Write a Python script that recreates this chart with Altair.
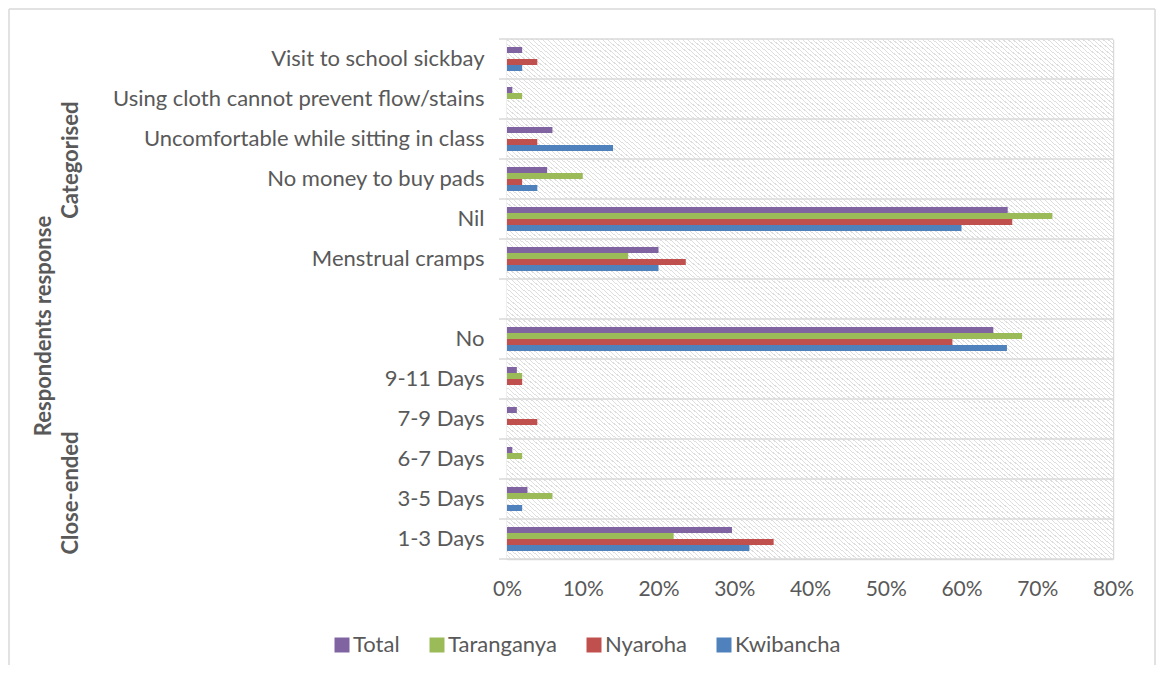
import altair as alt
import pandas as pd

# ---------------- data ----------------
categories = [
    "Visit to school sickbay",
    "Using cloth cannot prevent flow/stains",
    "Uncomfortable while sitting in class",
    "No money to buy pads",
    "Nil",
    "Menstrual cramps",
    " ",
    "No",
    "9-11 Days",
    "7-9 Days",
    "6-7 Days",
    "3-5 Days",
    "1-3 Days",
]
series = ["Total", "Taranganya", "Nyaroha", "Kwibancha"]
colors = ["#8064A2", "#9BBB59", "#C0504D", "#4F81BD"]

total      = [2.0, 0.7, 6.0, 5.3, 66.1, 20.0, None, 64.2, 1.3, 1.3, 0.7, 2.7, 29.7]
taranganya = [0.0, 2.0, 0.0, 10.0, 72.0, 16.0, None, 68.0, 2.0, 0.0, 2.0, 6.0, 22.0]
nyaroha    = [4.0, 0.0, 4.0, 2.0, 66.7, 23.6, None, 58.8, 2.0, 4.0, 0.0, 0.0, 35.2]
kwibancha  = [2.0, 0.0, 14.0, 4.0, 60.0, 20.0, None, 66.0, 0.0, 0.0, 0.0, 2.0, 32.0]

x_ticks = [0.0, 0.1, 0.2, 0.3, 0.4, 0.5, 0.6, 0.7, 0.8]

group_title = "Respondents response"
group_labels = ["Categorised", "Close-ended"]

# ---------------- table ----------------
rows = []
for name, vals in zip(series, [total, taranganya, nyaroha, kwibancha]):
    for cat, v in zip(categories, vals):
        if v is not None:
            rows.append({"cat": cat, "series": name, "value": v / 100.0})
df = pd.DataFrame(rows)

W, H = 606, 520
FONT = "Lato"
FS = 22
TXT = "#595959"
GRID = "#d9d9d9"

yscale = alt.Scale(domain=categories, paddingInner=0, paddingOuter=0)
yaxis = alt.Axis(
    grid=False, ticks=False, tickSize=0, domainColor=GRID, domainWidth=1.5,
    labelFont=FONT, labelFontSize=FS, labelColor=TXT, labelPadding=23,
    labelLimit=600, title=None,
)
# two empty slots around the four series leave the gap between groups
offset_domain = ["_gap_top"] + series + ["_gap_bottom"]

# hatched plot background as a striped linear gradient
N = 242
stops = []
for k in range(N):
    a, b, c = k / N, (k + 0.75) / N, (k + 1) / N
    stops += [
        {"offset": round(a, 5), "color": "#ffffff"},
        {"offset": round(b, 5), "color": "#ffffff"},
        {"offset": round(b, 5), "color": "#dedede"},
        {"offset": round(c, 5), "color": "#dedede"},
    ]
hatch = {"gradient": "linear", "x1": 0, "y1": 1, "x2": 1, "y2": 0, "stops": stops}

one = pd.DataFrame({"k": [0]})
background = alt.Chart(one).mark_rect(fill=hatch, strokeWidth=0).encode(
    x=alt.value(0), x2=alt.value(W), y=alt.value(0), y2=alt.value(H)
)

bars = alt.Chart(df).mark_bar().encode(
    x=alt.X(
        "value:Q",
        scale=alt.Scale(domain=[0, 0.8], nice=False),
        axis=alt.Axis(
            values=x_ticks, format=".0%", grid=True, gridColor=GRID, gridWidth=1.5,
            ticks=False, domainColor=GRID, domainWidth=1.5, labelFont=FONT,
            labelFontSize=21, labelColor=TXT, labelPadding=19, labelFlush=False,
            title=None,
        ),
    ),
    y=alt.Y("cat:N", scale=yscale, axis=yaxis),
    yOffset=alt.YOffset(
        "series:N",
        scale=alt.Scale(domain=offset_domain, paddingInner=0, paddingOuter=0.3333),
    ),
    color=alt.Color(
        "series:N",
        scale=alt.Scale(domain=series, range=colors),
        legend=alt.Legend(
            orient="none", legendX=-176, legendY=595, direction="horizontal",
            title=None, symbolType="square", symbolSize=225, symbolStrokeWidth=0,
            labelFont=FONT, labelFontSize=FS, labelColor=TXT, columnPadding=26,
            labelOffset=0, padding=0,
        ),
    ),
)

cat_df = pd.DataFrame({"cat": categories})
gridlines = alt.Chart(cat_df).mark_rule(color=GRID, strokeWidth=1.5).encode(
    y=alt.Y("cat:N", bandPosition=0, scale=yscale, axis=yaxis),
    x=alt.value(-8), x2=alt.value(W),
)
bottom_line = alt.Chart(cat_df.tail(1)).mark_rule(color=GRID, strokeWidth=1.5).encode(
    y=alt.Y("cat:N", bandPosition=1, scale=yscale, axis=yaxis),
    x=alt.value(-8), x2=alt.value(W),
)

title_txt = alt.Chart(pd.DataFrame({"cat": [categories[7]], "t": [group_title]})).mark_text(
    angle=270, font=FONT, fontSize=FS, fontWeight="bold", color=TXT,
    align="center", baseline="middle",
).encode(y=alt.Y("cat:N", bandPosition=0.175, scale=yscale, axis=yaxis),
         x=alt.value(-463), text="t:N")

cat_txt = alt.Chart(pd.DataFrame({"cat": [categories[3]], "t": [group_labels[0]]})).mark_text(
    angle=270, font=FONT, fontSize=FS, fontWeight="bold", color=TXT,
    align="center", baseline="middle",
).encode(y=alt.Y("cat:N", bandPosition=0.03, scale=yscale, axis=yaxis),
         x=alt.value(-436), text="t:N")

close_txt = alt.Chart(pd.DataFrame({"cat": [categories[11]], "t": [group_labels[1]]})).mark_text(
    angle=270, font=FONT, fontSize=FS, fontWeight="bold", color=TXT,
    align="center", baseline="middle",
).encode(y=alt.Y("cat:N", bandPosition=0.35, scale=yscale, axis=yaxis),
         x=alt.value(-436), text="t:N")

frame_l = alt.Chart(one).mark_rule(color=GRID, strokeWidth=1.5).encode(
    x=alt.value(-498), y=alt.value(-30), y2=alt.value(626))
frame_t = alt.Chart(one).mark_rule(color=GRID, strokeWidth=1.5).encode(
    x=alt.value(-498), x2=alt.value(648), y=alt.value(-30))
frame_r = alt.Chart(one).mark_rule(color=GRID, strokeWidth=1.5).encode(
    x=alt.value(648), y=alt.value(-30), y2=alt.value(626))

chart = alt.layer(
    background, gridlines, bottom_line, bars, title_txt, cat_txt, close_txt,
    frame_l, frame_t, frame_r
).properties(
    width=W, height=H, padding=0, background="white"
).configure_view(
    stroke=None
)

chart.save("out.html", embed_options={"renderer": "svg", "actions": False})
